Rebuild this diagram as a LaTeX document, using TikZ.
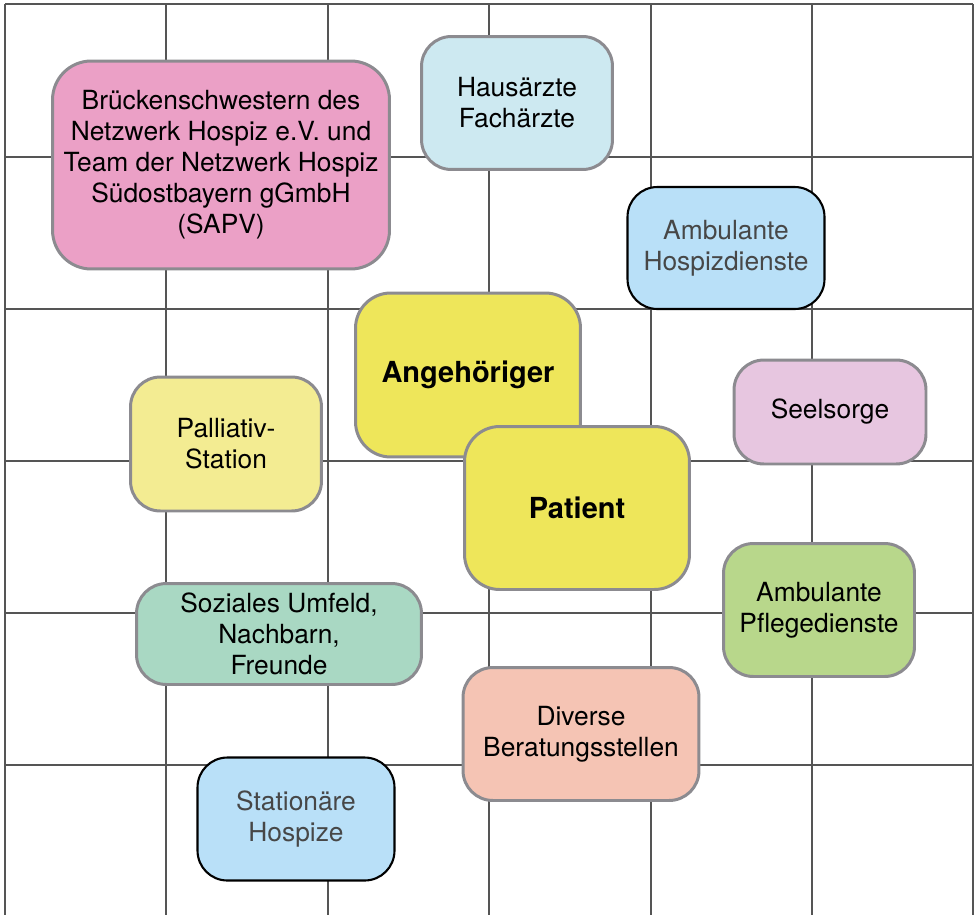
\documentclass[tikz,border=0pt]{standalone}
\usepackage{fontspec}
\setmainfont{TeX Gyre Heros}
\usetikzlibrary{backgrounds}

\definecolor{gridgray}{HTML}{555555}
\definecolor{framegray}{HTML}{8C8B90}
\definecolor{textgray}{HTML}{474747}
\definecolor{sapvpink}{HTML}{EBA0C6}
\definecolor{aerzteblue}{HTML}{CDE9F1}
\definecolor{hospizblue}{HTML}{B9E0F8}
\definecolor{patyellow}{HTML}{EEE65A}
\definecolor{palliyellow}{HTML}{F3EC92}
\definecolor{seelpink}{HTML}{E7C6E0}
\definecolor{umfeldgreen}{HTML}{A9D8C3}
\definecolor{pflegegreen}{HTML}{B8D78B}
\definecolor{beratsalmon}{HTML}{F5C4B4}

\begin{document}
\begin{tikzpicture}[
  x=0.02cm, y=-0.02cm,
  gridline/.style={draw=gridgray, line width=1.1pt},
  box/.style={draw=framegray, line width=1.7pt, rounded corners=17pt,
    align=center, inner sep=0pt,
    font=\fontsize{15}{17.6}\selectfont},
  hospizbox/.style={box, draw=black, line width=1.2pt, fill=hospizblue,
    text=textgray},
  centerbox/.style={box, fill=patyellow, rounded corners=20pt,
    font=\fontsize{16.5}{19}\selectfont\bfseries}
]

% ------------------- Canvas ------------------- %
\fill[white] (0,0) rectangle (979,915);

% ------------------- Grid ------------------- %
\foreach \x in {5,166,328,489,651,812,973} {
  \draw[gridline] (\x,4) -- (\x,915);
}
\foreach \y in {4,157,309,461,613,765} {
  \draw[gridline] (5,\y) -- (973,\y);
}

% ------------------- Outer boxes ------------------- %
\node[box, fill=sapvpink, rounded corners=22pt, minimum width=6.74cm, minimum height=4.16cm]
  (sapv) at (221,165) {Brückenschwestern des\\Netzwerk Hospiz e.V. und\\Team der Netzwerk Hospiz\\Südostbayern gGmbH\\(SAPV)};
\node[box, fill=aerzteblue, minimum width=3.82cm, minimum height=2.66cm]
  (aerzte) at (517,103) {Hausärzte\\Fachärzte};
\node[hospizbox, minimum width=3.94cm, minimum height=2.44cm]
  (hospizdienste) at (726,248) {Ambulante\\Hospizdienste};
\node[box, fill=palliyellow, minimum width=3.82cm, minimum height=2.68cm]
  (palliativ) at (226,444) {Palliativ-\\Station};
\node[box, fill=seelpink, minimum width=3.84cm, minimum height=2.08cm]
  (seelsorge) at (830,412) {Seelsorge};
\node[box, fill=umfeldgreen, minimum width=5.70cm, minimum height=2.02cm]
  (umfeld) at (279,634) {Soziales Umfeld,\\Nachbarn,\\Freunde};
\node[box, fill=pflegegreen, minimum width=3.82cm, minimum height=2.66cm]
  (pflege) at (819,610) {Ambulante\\Pflegedienste};
\node[box, fill=beratsalmon, minimum width=4.72cm, minimum height=2.66cm]
  (beratung) at (581,734) {Diverse\\Beratungsstellen};
\node[hospizbox, minimum width=3.94cm, minimum height=2.46cm]
  (stathospiz) at (296,819) {Stationäre\\Hospize};

% ------------------- Center: Angehöriger and Patient ------------------- %
\node[centerbox, minimum width=4.50cm, minimum height=3.28cm]
  (angehoeriger) at (468,375) {Angehöriger};
\node[centerbox, minimum width=4.50cm, minimum height=3.26cm]
  (patient) at (577,508) {Patient};

\end{tikzpicture}
\end{document}
